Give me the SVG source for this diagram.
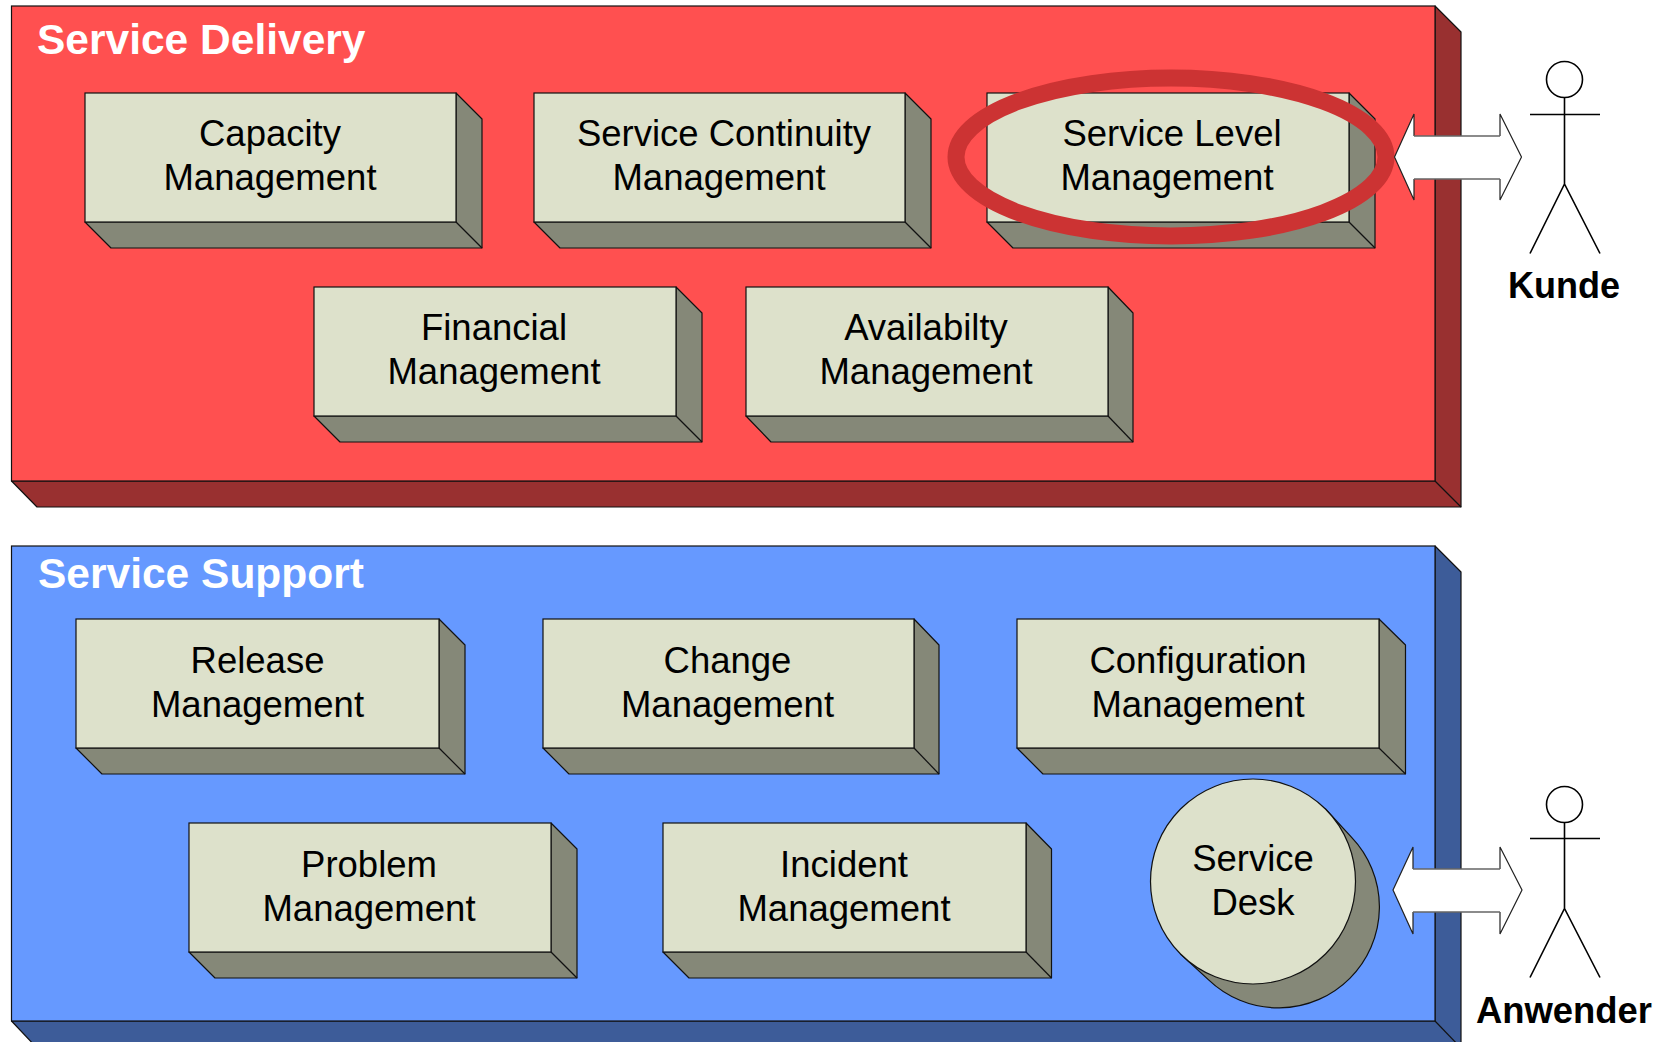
<svg xmlns="http://www.w3.org/2000/svg" width="1662" height="1042" viewBox="0 0 1662 1042">
<style>
text{font-family:"Liberation Sans",Arial,sans-serif;fill:#000}
.t{font-size:36.5px;text-anchor:middle}
.h{font-size:42.5px;font-weight:bold;fill:#fff}
.a{font-size:36px;font-weight:bold;text-anchor:middle}
.f{fill:#DDE1CB;stroke:#111;stroke-width:1.2}
.s{fill:#858878;stroke:#111;stroke-width:1.2;stroke-linejoin:round}
.rf{fill:#FF5050;stroke:#111;stroke-width:1.2}
.rs{fill:#993030;stroke:#111;stroke-width:1.2;stroke-linejoin:round}
.bf{fill:#6699FF;stroke:#111;stroke-width:1.2}
.bs{fill:#3D5C99;stroke:#111;stroke-width:1.2;stroke-linejoin:round}
.l{fill:none;stroke:#000;stroke-width:1.6}
.ar{fill:#fff;stroke:none}
.ah{fill:none;stroke:#222;stroke-width:1.2}
.as{fill:none;stroke:#666;stroke-width:1.5}
</style>
<g id="service-delivery">
<polygon class="rs" points="1435,6 1461,32 1461,507 37,507 11.500,481 1435,481"/>
<rect class="rf" x="11.500" y="6" width="1423.500" height="475"/>
<line class="rs" x1="1435" y1="481" x2="1461" y2="507"/>
<text class="h" x="37" y="54">Service Delivery</text>
</g>
<g id="service-support">
<polygon class="bs" points="1435,546 1461,572 1461,1048 37,1048 11.500,1021 1435,1021"/>
<rect class="bf" x="11.500" y="546" width="1423.500" height="475"/>
<line class="bs" x1="1435" y1="1021" x2="1461" y2="1048"/>
<text class="h" x="38" y="588">Service Support</text>
</g>
<g id="capacity">
<polygon class="s" points="456,93 482,119 482,248 111,248 85,222 456,222"/><rect class="f" x="85" y="93" width="371" height="129"/><line class="s" x1="456" y1="222" x2="482" y2="248"/>
<text class="t" x="270" y="145.500">Capacity</text><text class="t" x="270" y="190">Management</text>
</g>
<g id="continuity">
<polygon class="s" points="905,93 931,119 931,248 560,248 534,222 905,222"/><rect class="f" x="534" y="93" width="371" height="129"/><line class="s" x1="905" y1="222" x2="931" y2="248"/>
<text class="t" x="724" y="145.500">Service Continuity</text><text class="t" x="719" y="190">Management</text>
</g>
<g id="service-level">
<polygon class="s" points="1349,93 1375,119 1375,248 1013,248 987,222 1349,222"/><rect class="f" x="987" y="93" width="362" height="129"/><line class="s" x1="1349" y1="222" x2="1375" y2="248"/>
<text class="t" x="1172" y="145.500">Service Level</text><text class="t" x="1167" y="190">Management</text>
</g>
<g id="financial">
<polygon class="s" points="676,287 702,313 702,442 340,442 314,416 676,416"/><rect class="f" x="314" y="287" width="362" height="129"/><line class="s" x1="676" y1="416" x2="702" y2="442"/>
<text class="t" x="494" y="339.500">Financial</text><text class="t" x="494" y="384">Management</text>
</g>
<g id="availability">
<polygon class="s" points="1108,287 1133,313 1133,442 771,442 746,416 1108,416"/><rect class="f" x="746" y="287" width="362" height="129"/><line class="s" x1="1108" y1="416" x2="1133" y2="442"/>
<text class="t" x="926" y="339.500">Availabilty</text><text class="t" x="926" y="384">Management</text>
</g>
<g id="release">
<polygon class="s" points="439,619 465,645 465,774 102,774 76,748 439,748"/><rect class="f" x="76" y="619" width="363" height="129"/><line class="s" x1="439" y1="748" x2="465" y2="774"/>
<text class="t" x="257.500" y="673">Release</text><text class="t" x="257.500" y="717">Management</text>
</g>
<g id="change">
<polygon class="s" points="914,619 939,645 939,774 569,774 543,748 914,748"/><rect class="f" x="543" y="619" width="371" height="129"/><line class="s" x1="914" y1="748" x2="939" y2="774"/>
<text class="t" x="727.500" y="673">Change</text><text class="t" x="727.500" y="717">Management</text>
</g>
<g id="configuration">
<polygon class="s" points="1379,619 1405.500,645 1405.500,774 1043,774 1017,748 1379,748"/><rect class="f" x="1017" y="619" width="362" height="129"/><line class="s" x1="1379" y1="748" x2="1405.500" y2="774"/>
<text class="t" x="1198" y="673">Configuration</text><text class="t" x="1198" y="717">Management</text>
</g>
<g id="problem">
<polygon class="s" points="551,823 577,849 577,978 215,978 189,952 551,952"/><rect class="f" x="189" y="823" width="362" height="129"/><line class="s" x1="551" y1="952" x2="577" y2="978"/>
<text class="t" x="369" y="877">Problem</text><text class="t" x="369" y="921">Management</text>
</g>
<g id="incident">
<polygon class="s" points="1026,823 1051.500,849 1051.500,978 689,978 663,952 1026,952"/><rect class="f" x="663" y="823" width="363" height="129"/><line class="s" x1="1026" y1="952" x2="1051.500" y2="978"/>
<text class="t" x="844" y="877">Incident</text><text class="t" x="844" y="921">Management</text>
</g>
<g id="service-desk">
<path class="s" d="M1325.500,809L1351.400,837.100A101,101 0 0 1 1208.600,979.900L1180.500,954Z"/>
<circle class="f" cx="1253" cy="881.500" r="102.500"/>
<text class="t" x="1253" y="870.500">Service</text><text class="t" x="1253" y="914.500">Desk</text>
</g>
<g id="highlight"><ellipse cx="1171" cy="157" rx="215" ry="79" fill="none" stroke="#CC3333" stroke-width="17"/></g>
<g id="connectors">
<g id="arrow-kunde">
<polygon class="ar" points="1394.500,157 1414,114 1414,136 1500,136 1500,114 1521.500,157 1500,200 1500,179 1414,179 1414,200"/>
<path class="ah" d="M1414,136V114L1394.500,157L1414,200V179M1500,136V114L1521.500,157L1500,200V179"/>
<path class="as" d="M1414,136H1500M1414,179H1500"/>
</g>
<g id="arrow-anwender">
<polygon class="ar" points="1393,890 1413,847 1413,869 1500,869 1500,847 1522,890 1500,934 1500,912 1413,912 1413,934"/>
<path class="ah" d="M1413,869V847L1393,890L1413,934V912M1500,869V847L1522,890L1500,934V912"/>
<path class="as" d="M1413,869H1500M1413,912H1500"/>
</g>
</g>
<g id="kunde">
<ellipse class="l" cx="1564.500" cy="79.500" rx="18" ry="18"/>
<path class="l" d="M1530,114.500H1600M1564.500,97.500V184M1530,253.500L1564.500,184L1600,253.500"/>
<text class="a" x="1564" y="298">Kunde</text>
</g>
<g id="anwender">
<ellipse class="l" cx="1564.500" cy="804.500" rx="18" ry="18"/>
<path class="l" d="M1530,838.500H1600M1564.500,822.500V908.500M1530,977.500L1564.500,908.500L1600,977.500"/>
<text class="a" x="1564" y="1023" textLength="176" lengthAdjust="spacingAndGlyphs">Anwender</text>
</g>
</svg>
